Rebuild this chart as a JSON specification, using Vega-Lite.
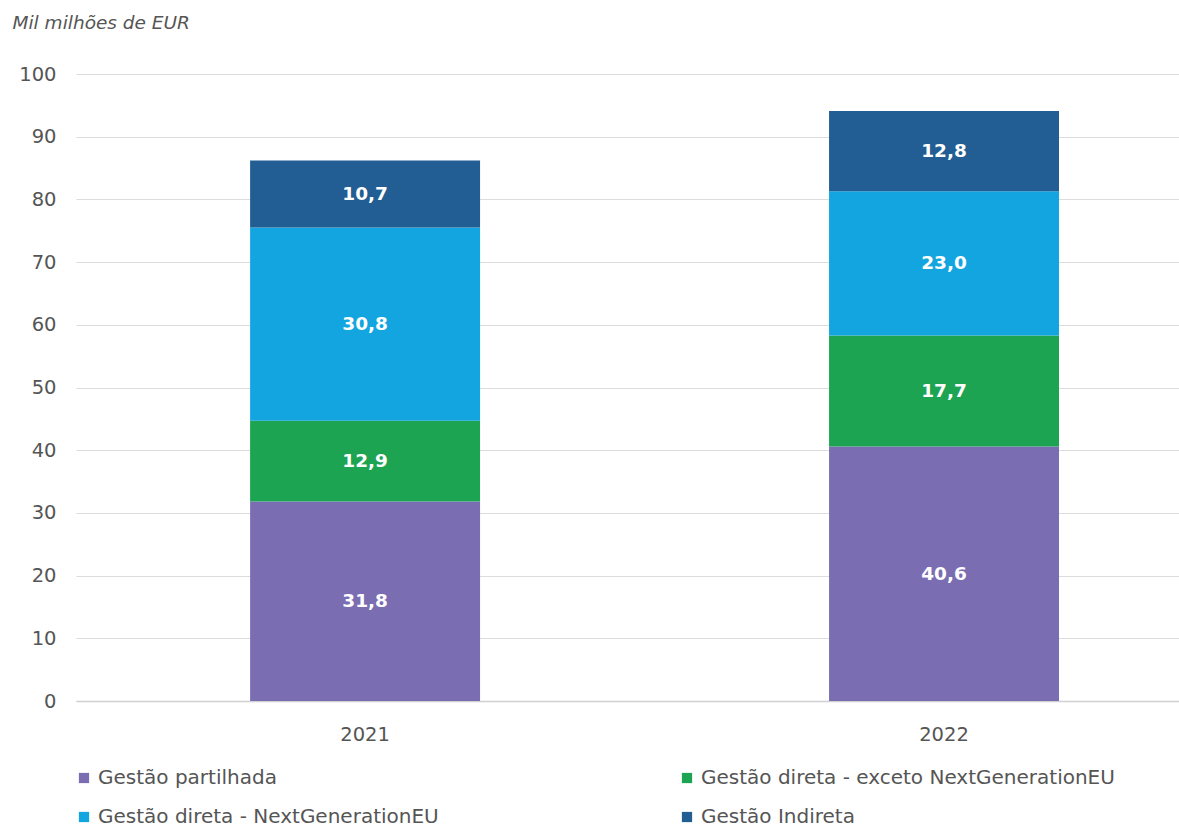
{
  "$schema": "https://vega.github.io/schema/vega-lite/v6.json",
  "autosize": "none",
  "width": 1103,
  "height": 627,
  "padding": {"left": 76, "top": 74, "right": 0, "bottom": 129},
  "background": "white",
  "config": {
    "locale": {"number": {"decimal": ",", "thousands": ".", "grouping": [3], "currency": ["", " €"]}},
    "view": {"stroke": null},
    "font": "DejaVu Sans"
  },
  "data": {
    "values": [
      {"ano": "2021", "categoria": "Gestão partilhada", "ordem": 1, "valor": 31.8},
      {"ano": "2021", "categoria": "Gestão direta - exceto NextGenerationEU", "ordem": 2, "valor": 12.9},
      {"ano": "2021", "categoria": "Gestão direta - NextGenerationEU", "ordem": 3, "valor": 30.8},
      {"ano": "2021", "categoria": "Gestão Indireta", "ordem": 4, "valor": 10.7},
      {"ano": "2022", "categoria": "Gestão partilhada", "ordem": 1, "valor": 40.6},
      {"ano": "2022", "categoria": "Gestão direta - exceto NextGenerationEU", "ordem": 2, "valor": 17.7},
      {"ano": "2022", "categoria": "Gestão direta - NextGenerationEU", "ordem": 3, "valor": 23.0},
      {"ano": "2022", "categoria": "Gestão Indireta", "ordem": 4, "valor": 12.8}
    ]
  },
  "encoding": {
    "x": {
      "field": "ano", "type": "nominal",
      "scale": {"paddingInner": 0.6028, "paddingOuter": 0.254, "align": 0.592},
      "axis": {"title": null, "labelAngle": 0, "labelFontSize": 19.5, "labelColor": "#555555", "labelPadding": 24, "ticks": false, "domain": true, "domainColor": "#d0d0d0", "domainWidth": 1.5, "grid": false}
    },
    "order": {"field": "ordem", "type": "quantitative"}
  },
  "layer": [
    {
      "mark": {"type": "bar"},
      "encoding": {
        "y": {
          "field": "valor", "type": "quantitative", "stack": "zero",
          "scale": {"domain": [0, 100]},
          "axis": {"title": "Mil milhões de EUR", "titleAngle": 0, "titleX": -64, "titleY": -52, "titleAlign": "left", "titleBaseline": "middle", "titleFontSize": 18.5, "titleFontStyle": "italic", "titleFontWeight": "normal", "titleColor": "#555555", "values": [0,10,20,30,40,50,60,70,80,90,100], "labelFontSize": 19.5, "labelColor": "#555555", "labelPadding": 20, "ticks": false, "domain": false, "gridColor": "#dcdcdc", "gridWidth": 1}
        },
        "color": {
          "field": "categoria", "type": "nominal",
          "sort": ["Gestão partilhada", "Gestão direta - exceto NextGenerationEU", "Gestão direta - NextGenerationEU", "Gestão Indireta"],
          "scale": {
            "domain": ["Gestão partilhada", "Gestão direta - exceto NextGenerationEU", "Gestão direta - NextGenerationEU", "Gestão Indireta"],
            "range": ["#7B6DB2", "#1DA453", "#13A5E0", "#225D93"]
          },
          "legend": {
            "title": null, "orient": "none", "legendX": -2, "legendY": 694, "columns": 2, "direction": "horizontal",
            "columnPadding": 238, "rowPadding": 19, "symbolType": "square", "symbolSize": 105, "symbolStrokeWidth": 0,
            "labelFontSize": 20, "labelColor": "#555555", "labelOffset": 4, "labelLimit": 600
          }
        }
      }
    },
    {
      "mark": {"type": "text", "color": "white", "fontWeight": "bold", "fontSize": 18.5, "baseline": "middle"},
      "encoding": {
        "y": {
          "field": "valor", "type": "quantitative", "stack": "zero", "bandPosition": 0.5,
          "scale": {"domain": [0, 100]},
          "axis": {"title": "Mil milhões de EUR", "titleAngle": 0, "titleX": -64, "titleY": -52, "titleAlign": "left", "titleBaseline": "middle", "titleFontSize": 18.5, "titleFontStyle": "italic", "titleFontWeight": "normal", "titleColor": "#555555", "values": [0,10,20,30,40,50,60,70,80,90,100], "labelFontSize": 19.5, "labelColor": "#555555", "labelPadding": 20, "ticks": false, "domain": false, "gridColor": "#dcdcdc", "gridWidth": 1}
        },
        "detail": {"field": "categoria"},
        "text": {"field": "valor", "type": "quantitative", "format": ".1f"}
      }
    }
  ]
}
